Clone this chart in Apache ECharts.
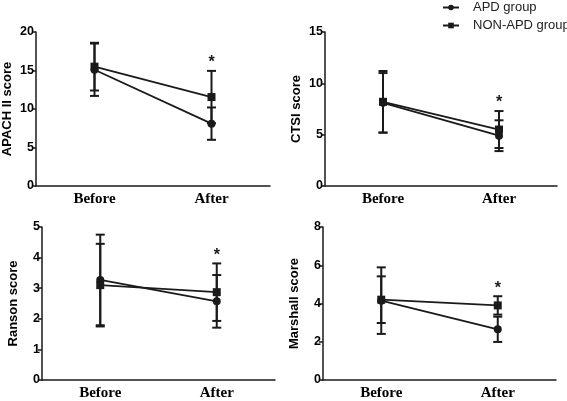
<!DOCTYPE html>
<html><head><meta charset="utf-8">
<script src="https://cdn.jsdelivr.net/npm/echarts@6/dist/echarts.min.js"></script>
<style>html,body{margin:0;padding:0;background:#fff}#c{width:567px;height:401px}</style>
</head><body><div id="c"></div>
<script>
const categories = ['Before', 'After'];
const groupNames = ['APD group', 'NON-APD group'];
const panelTitles = ['APACH II score', 'CTSI score', 'Ranson score', 'Marshall score'];
const yMax = [20, 15, 5, 8];
const yInterval = [5, 5, 1, 2];
// means [Before, After]
const apdMean = [[15.1, 8.1], [8.1, 4.9], [3.27, 2.57], [4.15, 2.65]];
const nonMean = [[15.5, 11.55], [8.2, 5.5], [3.1, 2.87], [4.2, 3.9]];
// SD [Before, After]
const apdSD = [[3.4, 2.1], [2.9, 1.5], [1.48, 0.86], [1.74, 0.66]];
const nonSD = [[3.1, 3.4], [3.0, 1.8], [1.35, 0.94], [1.22, 0.48]];

const grids = [
  {left: 36, top: 32, width: 234, height: 154},
  {left: 325, top: 32, width: 232, height: 154},
  {left: 42, top: 227, width: 233, height: 154},
  {left: 323, top: 227, width: 233, height: 154}
];
const ink = '#1a1a1a';
const xAxis = [], yAxis = [], series = [];
grids.forEach((g, i) => {
  xAxis.push({
    type: 'category', gridIndex: i, data: categories, boundaryGap: true,
    axisLine: {lineStyle: {color: ink, width: 1.5}},
    axisTick: {alignWithLabel: true, length: 3, lineStyle: {color: ink, width: 1.5}},
    axisLabel: {color: '#000', fontFamily: 'Liberation Serif', fontWeight: 'bold', fontSize: 15, margin: 6}
  });
  yAxis.push({
    type: 'value', gridIndex: i, min: 0, max: yMax[i], interval: yInterval[i],
    name: panelTitles[i], nameLocation: 'middle', nameGap: 22,
    nameTextStyle: {color: '#000', fontFamily: 'Liberation Sans', fontWeight: 'bold', fontSize: 13},
    splitLine: {show: false},
    axisLine: {show: true, lineStyle: {color: ink, width: 1.5}},
    axisTick: {show: true, length: 4, lineStyle: {color: ink, width: 1.5}},
    axisLabel: {color: '#000', fontFamily: 'Liberation Sans', fontWeight: 'bold', fontSize: 12.5, margin: 2}
  });
  const groups = [[apdMean[i], apdSD[i], 'circle', groupNames[0]], [nonMean[i], nonSD[i], 'rect', groupNames[1]]];
  groups.forEach(([m, s, sym, name]) => {
    series.push({
      type: 'custom', xAxisIndex: i, yAxisIndex: i, silent: true, z: 2,
      data: categories.map((c, k) => [k, m[k] - s[k], m[k] + s[k]]),
      renderItem: (params, api) => {
        const lo = api.coord([api.value(0), api.value(1)]);
        const hi = api.coord([api.value(0), api.value(2)]);
        const hw = 4.5;
        const st = {stroke: ink, lineWidth: 2};
        return {type: 'group', children: [
          {type: 'line', shape: {x1: lo[0], y1: lo[1], x2: hi[0], y2: hi[1]}, style: st},
          {type: 'line', shape: {x1: lo[0] - hw, y1: lo[1], x2: lo[0] + hw, y2: lo[1]}, style: st},
          {type: 'line', shape: {x1: hi[0] - hw, y1: hi[1], x2: hi[0] + hw, y2: hi[1]}, style: st}
        ]};
      }
    });
    series.push({
      type: 'line', name: name, xAxisIndex: i, yAxisIndex: i, data: m, z: 3,
      symbol: sym, symbolSize: 8, showSymbol: true,
      lineStyle: {color: ink, width: 1.8}, itemStyle: {color: ink}
    });
  });
  const top = Math.max(apdMean[i][1] + apdSD[i][1], nonMean[i][1] + nonSD[i][1]);
  series.push({
    type: 'custom', xAxisIndex: i, yAxisIndex: i, silent: true,
    data: [[1, top]],
    renderItem: (params, api) => {
      const p = api.coord([api.value(0), api.value(1)]);
      return {type: 'text', x: p[0], y: p[1] - 8, style: {text: '*', fill: ink, font: 'bold 16px Liberation Sans', align: 'center', verticalAlign: 'middle'}};
    }
  });
});

const chart = echarts.init(document.getElementById('c'), null, {renderer: 'canvas'});
chart.setOption({
  animation: false,
  grid: grids,
  xAxis: xAxis,
  yAxis: yAxis,
  legend: {
    data: groupNames, orient: 'vertical', left: 442, top: 1, padding: 0,
    itemWidth: 16, itemHeight: 7, itemGap: 5,
    textStyle: {color: '#222', fontFamily: 'Liberation Sans', fontSize: 13, padding: [0, 0, 0, 9]}
  },
  series: series
});
</script></body></html>
